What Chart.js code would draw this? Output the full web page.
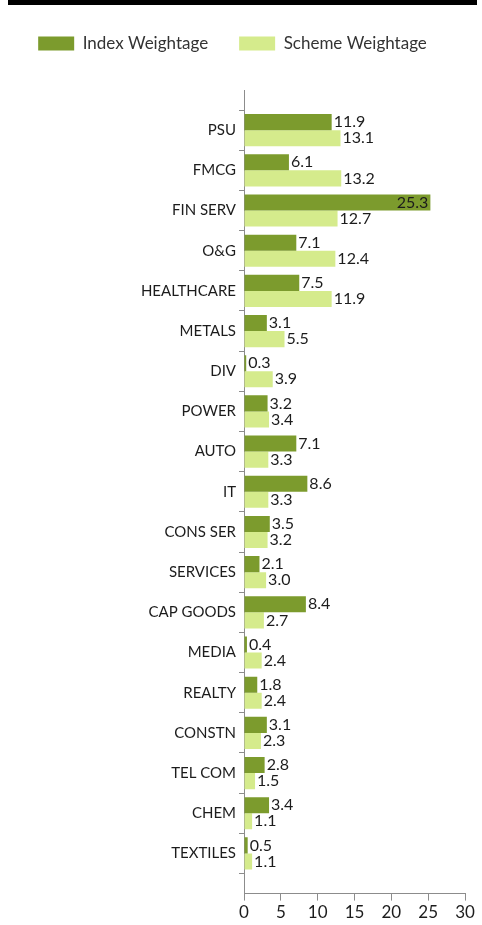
<!DOCTYPE html>
<html>
<head>
<meta charset="utf-8">
<script src="https://cdn.jsdelivr.net/npm/chart.js@4/dist/chart.umd.min.js"></script>
<style>
  body { margin: 0; background: #fff; }
  #wrap { position: relative; width: 482px; height: 925px; }
  #topbar { position: absolute; left: 8px; top: 0; width: 469px; height: 5px; background: #000; }
</style>
</head>
<body>
<div id="wrap">
  <canvas id="weightChart" width="482" height="925"></canvas>
  <div id="topbar"></div>
</div>
<script>
// sectors, top to bottom
const categories = ['PSU', 'FMCG', 'FIN SERV', 'O&G', 'HEALTHCARE', 'METALS', 'DIV', 'POWER', 'AUTO', 'IT',
  'CONS SER', 'SERVICES', 'CAP GOODS', 'MEDIA', 'REALTY', 'CONSTN', 'TEL COM', 'CHEM', 'TEXTILES'];
const indexWeightage = [11.9, 6.1, 25.3, 7.1, 7.5, 3.1, 0.3, 3.2, 7.1, 8.6, 3.5, 2.1, 8.4, 0.4, 1.8, 3.1, 2.8, 3.4, 0.5];
const schemeWeightage = [13.1, 13.2, 12.7, 12.4, 11.9, 5.5, 3.9, 3.4, 3.3, 3.3, 3.2, 3.0, 2.7, 2.4, 2.4, 2.3, 1.5, 1.1, 1.1];
const xTicks = [0, 5, 10, 15, 20, 25, 30];

const FONT = 'Lato, "Open Sans", sans-serif';

// blank slot at each end so the axis runs past the first and last sector
const labels = [''].concat(categories, ['']);
const pad = arr => [null].concat(arr, [null]);

// value labels at the end of each bar
const barLabels = {
    id: 'barLabels',
    afterDatasetsDraw(chart) {
        const ctx = chart.ctx;
        ctx.save();
        ctx.font = '16px ' + FONT;
        ctx.fillStyle = '#1c1c1c';
        ctx.textBaseline = 'middle';
        chart.data.datasets.forEach((ds, i) => {
            chart.getDatasetMeta(i).data.forEach((bar, j) => {
                const v = ds.data[j];
                if (v === null) return;
                const txt = v.toFixed(1);
                const w = ctx.measureText(txt).width;
                if (bar.x + w + 10 > chart.chartArea.right) {
                    ctx.textAlign = 'right';
                    ctx.fillText(txt, bar.x - 2, bar.y);
                } else {
                    ctx.textAlign = 'left';
                    ctx.fillText(txt, bar.x + 2, bar.y);
                }
            });
        });
        ctx.restore();
    }
};

// make room between legend and plot
const legendGap = {
    id: 'legendGap',
    beforeInit(chart) {
        const fit = chart.legend.fit;
        chart.legend.fit = function () {
            fit.bind(chart.legend)();
            this.height = 86;
        };
    }
};

new Chart(document.getElementById('weightChart'), {
    type: 'bar',
    data: {
        labels: labels,
        datasets: [{
            label: 'Index Weightage',
            data: pad(indexWeightage),
            backgroundColor: '#7c9b2d',
            borderWidth: 0
        }, {
            label: 'Scheme Weightage',
            data: pad(schemeWeightage),
            backgroundColor: '#d5eb8c',
            borderWidth: 0
        }]
    },
    options: {
        indexAxis: 'y',
        responsive: false,
        animation: false,
        categoryPercentage: 0.8,
        barPercentage: 1.0,
        layout: { padding: { top: 4, right: 17, bottom: 0, left: 0 } },
        plugins: {
            legend: {
                position: 'top',
                labels: {
                    boxWidth: 36,
                    boxHeight: 14,
                    padding: 31,
                    color: '#333',
                    font: { family: FONT, size: 17 }
                }
            },
            tooltip: { enabled: false }
        },
        scales: {
            y: {
                offset: false,
                afterFit(scale) { scale.width = 244; },
                grid: {
                    drawOnChartArea: false,
                    tickLength: 5,
                    color: '#8c8c8c'
                },
                border: { color: '#8c8c8c' },
                ticks: {
                    autoSkip: false,
                    padding: 3,
                    color: '#1c1c1c',
                    font: { family: FONT, size: 15 }
                }
            },
            x: {
                min: 0,
                max: 30,
                afterBuildTicks(scale) { scale.ticks = xTicks.map(v => ({ value: v })); },
                grid: {
                    drawOnChartArea: false,
                    tickLength: 7,
                    color: '#8c8c8c'
                },
                border: { color: '#8c8c8c' },
                ticks: {
                    padding: 2,
                    color: '#1c1c1c',
                    font: { family: FONT, size: 17 }
                }
            }
        }
    },
    plugins: [barLabels, legendGap]
});
</script>
</body>
</html>
